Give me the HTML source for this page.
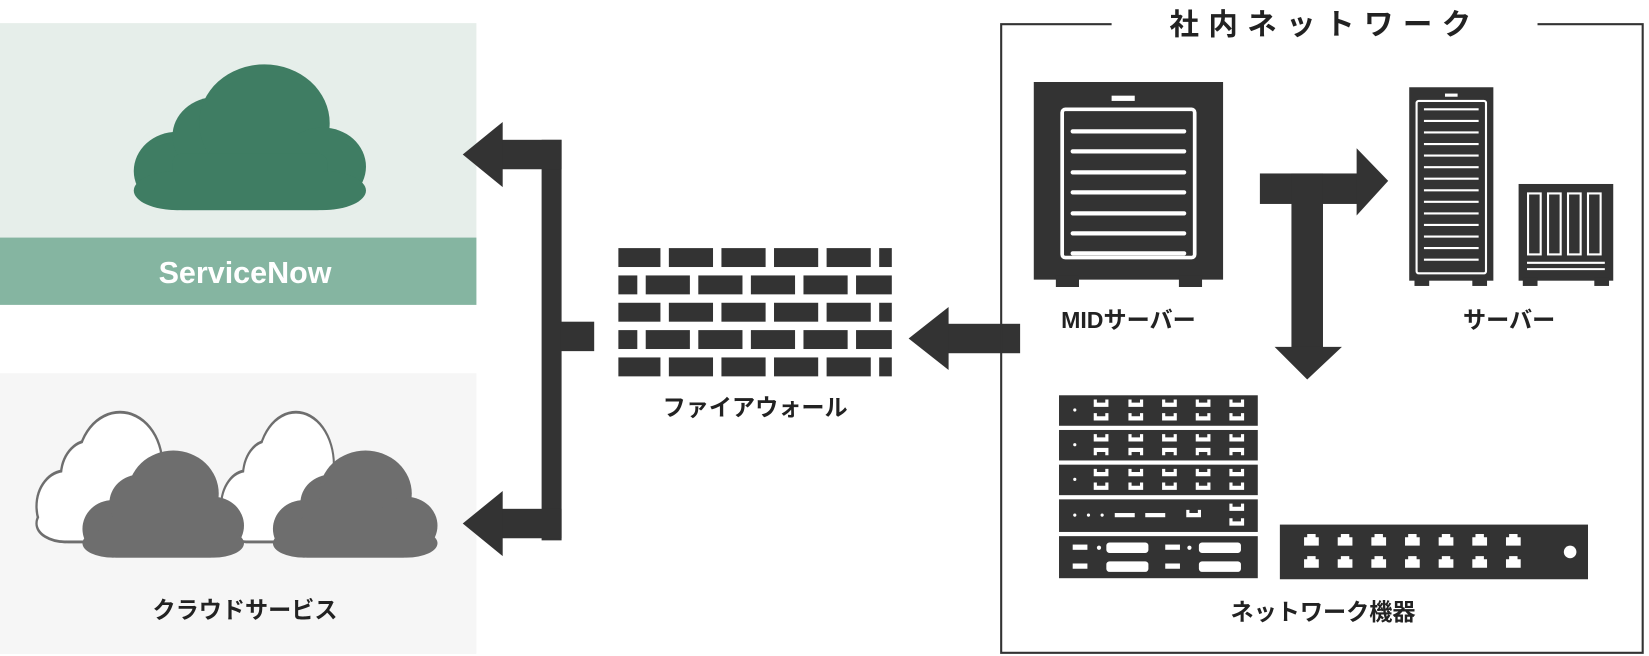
<!DOCTYPE html>
<html><head><meta charset="utf-8"><style>
html,body{margin:0;padding:0;background:#fff}
svg{display:block}
text{font-family:"Liberation Sans","Noto Sans CJK JP",sans-serif;font-weight:bold}
</style></head><body>
<svg width="1649" height="656" viewBox="0 0 1568 624" preserveAspectRatio="none" xmlns="http://www.w3.org/2000/svg">
<defs>
<g id="cl">
<circle cx="22" cy="52" r="18"/><circle cx="38" cy="36" r="18"/><circle cx="58" cy="30" r="27"/><circle cx="82" cy="50" r="18"/><rect x="20" y="44" width="64" height="26" rx="4"/><rect x="4" y="52" width="96" height="18" rx="18"/>
</g>
<g id="port"><path d="M0,0 h3 v3 h8 v-3 h3 v7 h-14z" fill="#fff"/></g>
<g id="port2"><path d="M0,7 h3 v-3 h8 v3 h3 v-7 h-14z" fill="#fff"/></g>
<g id="rj"><path d="M0,4 h3 v-3 h8 v3 h3 v8 h-14z" fill="#fff"/></g>
</defs>

<!-- ServiceNow panel -->
<rect x="0" y="22" width="453" height="268" fill="#e6eeea"/>
<rect x="0" y="226" width="453" height="64" fill="#85b5a1"/>
<text x="233" y="269" font-size="29" fill="#fff" text-anchor="middle">ServiceNow</text>
<use href="#cl" fill="#3f7d63" transform="translate(118,55) scale(2.3,2.07)"/>

<!-- cloud services panel -->
<rect x="0" y="355" width="453" height="267" fill="#f6f6f6"/>
<g fill="#6e6e6e" stroke="#6e6e6e" stroke-width="3">
<use href="#cl" transform="translate(30,388) scale(1.45,1.8)"/>
<use href="#cl" transform="translate(206,388) scale(1.3,1.8)"/>
</g>
<g fill="#fff">
<use href="#cl" transform="translate(30,388) scale(1.45,1.8)"/>
<use href="#cl" transform="translate(206,388) scale(1.3,1.8)"/>
</g>
<use href="#cl" fill="#6e6e6e" transform="translate(72,424) scale(1.6,1.52)"/>
<use href="#cl" fill="#6e6e6e" transform="translate(253,424) scale(1.63,1.52)"/>
<text x="233" y="588" font-size="22" fill="#222" text-anchor="middle">クラウドサービス</text>

<!-- bracket arrows -->
<g fill="#333">
<rect x="515" y="133" width="19" height="381"/>
<rect x="476" y="133" width="58" height="28"/>
<polygon points="440,147 478,116 478,178"/>
<rect x="476" y="484" width="58" height="28"/>
<polygon points="440,498 478,467 478,529"/>
<rect x="533" y="306" width="32" height="28"/>
<rect x="900" y="308" width="70" height="28"/>
<polygon points="864,322 902,292 902,352"/>
</g>

<!-- firewall -->
<g fill="#333">
<rect x="588" y="236" width="40" height="18"/><rect x="636" y="236" width="42" height="18"/><rect x="686" y="236" width="42" height="18"/><rect x="736" y="236" width="42" height="18"/><rect x="786" y="236" width="42" height="18"/><rect x="836" y="236" width="12" height="18"/>
<rect x="588" y="262" width="18" height="18"/><rect x="614" y="262" width="42" height="18"/><rect x="664" y="262" width="42" height="18"/><rect x="714" y="262" width="42" height="18"/><rect x="764" y="262" width="42" height="18"/><rect x="814" y="262" width="34" height="18"/>
<rect x="588" y="288" width="40" height="18"/><rect x="636" y="288" width="42" height="18"/><rect x="686" y="288" width="42" height="18"/><rect x="736" y="288" width="42" height="18"/><rect x="786" y="288" width="42" height="18"/><rect x="836" y="288" width="12" height="18"/>
<rect x="588" y="314" width="18" height="18"/><rect x="614" y="314" width="42" height="18"/><rect x="664" y="314" width="42" height="18"/><rect x="714" y="314" width="42" height="18"/><rect x="764" y="314" width="42" height="18"/><rect x="814" y="314" width="34" height="18"/>
<rect x="588" y="340" width="40" height="18"/><rect x="636" y="340" width="42" height="18"/><rect x="686" y="340" width="42" height="18"/><rect x="736" y="340" width="42" height="18"/><rect x="786" y="340" width="42" height="18"/><rect x="836" y="340" width="12" height="18"/>
</g>
<text x="718" y="395" font-size="22" fill="#222" text-anchor="middle">ファイアウォール</text>

<!-- network box -->
<path d="M1057,23 H952 V621 H1562 V23 H1462" fill="none" stroke="#333" stroke-width="2"/>
<text x="1260" y="33" font-size="28" fill="#222" text-anchor="middle" letter-spacing="9">社内ネットワーク</text>

<!-- MID server -->
<g fill="#333">
<rect x="983" y="78" width="180" height="188"/>
<rect x="1004" y="262" width="22" height="11"/><rect x="1121" y="262" width="22" height="11"/>
</g>
<rect x="1057" y="91" width="22" height="5" fill="#fff"/>
<rect x="1010" y="104" width="126" height="141" rx="3" fill="none" stroke="#fff" stroke-width="3.5"/>
<g stroke="#fff" stroke-width="4" stroke-linecap="round">
<line x1="1020" y1="125" x2="1126" y2="125"/>
<line x1="1020" y1="144" x2="1126" y2="144"/>
<line x1="1020" y1="164" x2="1126" y2="164"/>
<line x1="1020" y1="183" x2="1126" y2="183"/>
<line x1="1020" y1="203" x2="1126" y2="203"/>
<line x1="1020" y1="222" x2="1126" y2="222"/>
<line x1="1020" y1="241" x2="1126" y2="241"/>
</g>
<text x="1073" y="312" font-size="22" fill="#222" text-anchor="middle">MIDサーバー</text>

<!-- T arrow -->
<g fill="#333">
<rect x="1198" y="165" width="94" height="29"/>
<polygon points="1320,172 1290,141 1290,205"/>
<rect x="1228" y="165" width="30" height="168"/>
<polygon points="1243,361 1212,330 1276,330"/>
</g>

<!-- tower server -->
<g fill="#333">
<rect x="1340" y="83" width="80" height="184"/>
<rect x="1345" y="264" width="14" height="8"/><rect x="1400" y="264" width="14" height="8"/>
</g>
<rect x="1374" y="89" width="12" height="3" fill="#fff"/>
<rect x="1347" y="96" width="66" height="164" rx="2" fill="none" stroke="#fff" stroke-width="2"/>
<g stroke="#fff" stroke-width="2">
<line x1="1354" y1="104" x2="1406" y2="104"/><line x1="1354" y1="115" x2="1406" y2="115"/><line x1="1354" y1="126" x2="1406" y2="126"/><line x1="1354" y1="137" x2="1406" y2="137"/><line x1="1354" y1="148" x2="1406" y2="148"/><line x1="1354" y1="159" x2="1406" y2="159"/><line x1="1354" y1="170" x2="1406" y2="170"/><line x1="1354" y1="181" x2="1406" y2="181"/><line x1="1354" y1="192" x2="1406" y2="192"/><line x1="1354" y1="203" x2="1406" y2="203"/><line x1="1354" y1="214" x2="1406" y2="214"/><line x1="1354" y1="225" x2="1406" y2="225"/><line x1="1354" y1="236" x2="1406" y2="236"/><line x1="1354" y1="247" x2="1406" y2="247"/>
</g>

<!-- NAS -->
<g fill="#333">
<rect x="1444" y="175" width="90" height="92"/>
<rect x="1448" y="264" width="14" height="8"/><rect x="1516" y="264" width="14" height="8"/>
</g>
<g fill="none" stroke="#fff" stroke-width="2">
<rect x="1453" y="184" width="12" height="58"/><rect x="1472" y="184" width="12" height="58"/><rect x="1491" y="184" width="12" height="58"/><rect x="1510" y="184" width="12" height="58"/>
<line x1="1452" y1="250" x2="1526" y2="250"/><line x1="1452" y1="256" x2="1526" y2="256"/>
</g>
<text x="1435" y="312" font-size="22" fill="#222" text-anchor="middle">サーバー</text>

<!-- rack -->
<g fill="#333">
<rect x="1007" y="376" width="189" height="29"/>
<rect x="1007" y="409" width="189" height="29"/>
<rect x="1007" y="442" width="189" height="29"/>
<rect x="1007" y="475" width="189" height="31"/>
<rect x="1007" y="510" width="189" height="40"/>
</g>
<g fill="#fff">
<circle cx="1022" cy="390" r="1.5"/><circle cx="1022" cy="423" r="1.5"/><circle cx="1022" cy="456" r="1.5"/>
<circle cx="1022" cy="490" r="1.5"/><circle cx="1035" cy="490" r="1.5"/><circle cx="1048" cy="490" r="1.5"/>
<rect x="1060" y="488" width="19" height="4"/><rect x="1089" y="488" width="19" height="4"/>
<rect x="1020" y="518" width="14" height="5"/><circle cx="1045" cy="521" r="2"/><rect x="1052" y="516" width="40" height="10" rx="3"/>
<rect x="1020" y="536" width="14" height="5"/><rect x="1052" y="534" width="40" height="10" rx="3"/>
<rect x="1108" y="518" width="14" height="5"/><circle cx="1131" cy="521" r="2"/><rect x="1140" y="516" width="40" height="10" rx="3"/>
<rect x="1108" y="536" width="14" height="5"/><rect x="1140" y="534" width="40" height="10" rx="3"/>
</g>
<g>
<use href="#port" x="1040" y="380"/><use href="#port" x="1073" y="380"/><use href="#port" x="1105" y="380"/><use href="#port" x="1137" y="380"/><use href="#port" x="1169" y="380"/>
<use href="#port" x="1040" y="393"/><use href="#port" x="1073" y="393"/><use href="#port" x="1105" y="393"/><use href="#port" x="1137" y="393"/><use href="#port" x="1169" y="393"/>
<use href="#port" x="1040" y="413"/><use href="#port" x="1073" y="413"/><use href="#port" x="1105" y="413"/><use href="#port" x="1137" y="413"/><use href="#port" x="1169" y="413"/>
<use href="#port2" x="1040" y="426"/><use href="#port2" x="1073" y="426"/><use href="#port2" x="1105" y="426"/><use href="#port2" x="1137" y="426"/><use href="#port2" x="1169" y="426"/>
<use href="#port" x="1040" y="446"/><use href="#port" x="1073" y="446"/><use href="#port" x="1105" y="446"/><use href="#port" x="1137" y="446"/><use href="#port" x="1169" y="446"/>
<use href="#port" x="1040" y="459"/><use href="#port" x="1073" y="459"/><use href="#port" x="1105" y="459"/><use href="#port" x="1137" y="459"/><use href="#port" x="1169" y="459"/>
<use href="#port" x="1128" y="485"/><use href="#port" x="1169" y="479"/><use href="#port" x="1169" y="493"/>
</g>

<!-- switch -->
<rect x="1217" y="499" width="293" height="52" fill="#333"/>
<g>
<use href="#rj" x="1240" y="507"/><use href="#rj" x="1272" y="507"/><use href="#rj" x="1304" y="507"/><use href="#rj" x="1336" y="507"/><use href="#rj" x="1368" y="507"/><use href="#rj" x="1400" y="507"/><use href="#rj" x="1432" y="507"/>
<use href="#rj" x="1240" y="528"/><use href="#rj" x="1272" y="528"/><use href="#rj" x="1304" y="528"/><use href="#rj" x="1336" y="528"/><use href="#rj" x="1368" y="528"/><use href="#rj" x="1400" y="528"/><use href="#rj" x="1432" y="528"/>
</g>
<circle cx="1493" cy="525" r="6" fill="#fff"/>
<text x="1258" y="590" font-size="22" fill="#222" text-anchor="middle">ネットワーク機器</text>
</svg>
</body></html>
